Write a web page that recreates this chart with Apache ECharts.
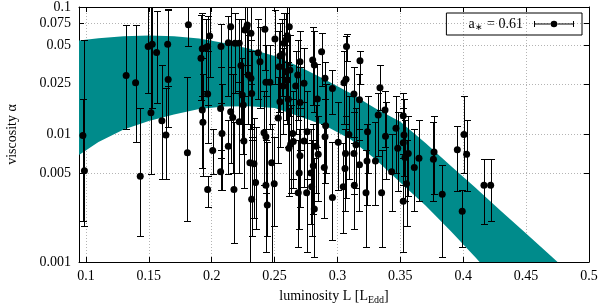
<!DOCTYPE html>
<html><head><meta charset="utf-8">
<script src="https://cdn.jsdelivr.net/npm/echarts@6/dist/echarts.min.js"></script>
<style>html,body{margin:0;padding:0;background:#fff}#c{width:600px;height:305px}</style>
</head><body><div id="c"></div>
<script>
const xTicks = [0.1, 0.15, 0.2, 0.25, 0.3, 0.35, 0.4, 0.45, 0.5];
const yTicks = [0.001, 0.005, 0.01, 0.025, 0.05, 0.075, 0.1];
const yTickLabels = ['0.001', '0.005', '0.01', '0.025', '0.05', '0.075', '0.1'];
const seriesName = 'a* = 0.61';

const lum = [0.0976,0.0988,0.132,0.1395,0.1432,0.1495,0.1527,0.1517,0.1562,0.1604,0.1636,0.165,0.1654,0.1815,0.1807,0.1915,0.1925,0.1952,0.1968,0.1984,
0.1968,0.1925,0.193,0.2074,0.2071,0.2082,0.2151,0.2132,0.2185,0.2219,0.2151,0.2167,0.1968,0.2008,0.2071,0.2132,0.2177,0.2256,0.2304,0.2318,
0.2349,0.2442,0.2477,0.2336,0.2416,0.2431,0.2431,0.2497,0.2614,0.2628,0.2644,0.2649,0.2688,0.2702,0.2696,0.2734,0.2755,0.2789,0.2795,0.2808,
0.2816,0.2847,0.2829,0.2895,0.2901,0.296,0.3006,0.3046,0.3064,0.306,0.3091,0.3131,0.3134,0.3147,0.3175,0.3227,0.3235,0.3239,0.3302,0.3351,
0.3382,0.3431,0.3479,0.3529,0.3537,0.3549,0.3523,0.3563,0.3611,0.3648,0.3763,0.3768,0.3833,0.3953,0.3992,0.4027,0.4006,0.4165,0.4218,0.3523,
0.2874,0.2901,0.296,0.3052,0.3068,0.3072,0.3131,0.3175,0.3179,0.3324,0.3338,0.3378,0.2906,0.3465,0.2233,0.2264,0.2278,0.2283,0.2312,0.2291,
0.2312,0.2318,0.2243,0.2251,0.237,0.2384,0.2423,0.2431,0.2463,0.2503,0.2537,0.2543,0.2561,0.2575,0.259,0.2601,0.2617,0.259,0.2601,0.2569,
0.2543,0.2609,0.2622,0.2668,0.2684,0.2702,0.2702,0.2734,0.2803,0.2816,0.284,0.2529,0.2219,0.2759,0.3523];
const alpha = [0.0098,0.0052,0.029,0.0255,0.0047,0.049,0.051,0.0148,0.044,0.0128,0.0099,0.051,0.027,0.0726,0.0072,0.0396,0.047,0.048,0.049,0.0593,
0.0208,0.0156,0.0125,0.049,0.016,0.0102,0.070,0.0525,0.0519,0.0519,0.0151,0.0136,0.0037,0.0075,0.0051,0.0081,0.0037,0.0089,0.006,0.0031,
0.0042,0.0028,0.006,0.0059,0.0103,0.0096,0.004,0.0041,0.0078,0.0084,0.0102,0.0088,0.0035,0.0068,0.005,0.0089,0.0035,0.005,0.0039,0.0057,
0.0026,0.007,0.0081,0.0055,0.0096,0.0032,0.0087,0.0039,0.0071,0.0054,0.01,0.0071,0.004,0.0083,0.0058,0.0035,0.0062,0.0105,0.0062,0.0035,
0.0097,0.0051,0.0078,0.0099,0.0066,0.0041,0.003,0.0071,0.0055,0.0065,0.0064,0.0073,0.0034,0.0076,0.0025,0.007,0.01,0.004,0.004,0.014,
0.0446,0.0276,0.023,0.0255,0.0271,0.0489,0.0208,0.0187,0.0379,0.0142,0.0233,0.0156,0.0117,0.0112,0.0347,0.066,0.0689,0.0722,0.0622,0.0293,
0.0276,0.021,0.0204,0.017,0.0438,0.0372,0.0668,0.0257,0.0257,0.0561,0.034,0.0413,0.0426,0.0519,0.0551,0.0596,0.070,0.0311,0.0268,0.024,
0.0181,0.0189,0.0321,0.024,0.0293,0.0372,0.0178,0.0252,0.0384,0.0351,0.019,0.0135,0.0126,0.0105,0.0086];
const alphaLo = [0.0021,0.0019,0.011,0.0087,0.0016,0.021,0.016,0.0049,0.0177,0.0045,0.0045,0.024,0.0115,0.049,0.0021,0.0187,0.02,0.022,0.017,0.028,
0.0085,0.0055,0.0047,0.0177,0.0065,0.0037,0.03,0.02,0.021,0.022,0.006,0.005,0.0027,0.0049,0.0037,0.0049,0.0014,0.0038,0.001,0.0016,
0.0018,0.0016,0.001,0.0022,0.004,0.0035,0.0012,0.0019,0.0033,0.0035,0.0045,0.0038,0.0013,0.0027,0.0018,0.0039,0.0012,0.002,0.0016,0.0024,
0.0011,0.003,0.0035,0.0022,0.0042,0.0015,0.0037,0.0017,0.0032,0.0025,0.0045,0.0034,0.0018,0.0038,0.0025,0.0013,0.0028,0.005,0.0028,0.0013,
0.0045,0.0025,0.0036,0.0047,0.003,0.0019,0.0012,0.0033,0.0025,0.003,0.003,0.0034,0.0011,0.0036,0.0013,0.0036,0.005,0.002,0.0021,0.007,
0.024,0.012,0.0146,0.012,0.012,0.0377,0.0095,0.009,0.025,0.0068,0.0156,0.008,0.005,0.005,0.012,0.03,0.035,0.03,0.025,0.012,
0.011,0.009,0.009,0.007,0.019,0.016,0.032,0.011,0.011,0.025,0.015,0.018,0.02,0.024,0.026,0.028,0.035,0.013,0.012,0.01,
0.008,0.008,0.014,0.01,0.013,0.016,0.0075,0.011,0.017,0.015,0.008,0.006,0.005,0.0045,0.004];
const alphaHi = [0.019,0.055,0.072,0.072,0.016,0.11,0.11,0.11,0.093,0.035,0.023,0.095,0.096,0.1,0.028,0.087,0.09,0.08,0.085,0.1,
0.045,0.04,0.03,0.074,0.034,0.025,0.1,0.085,0.09,0.08,0.034,0.03,0.0047,0.011,0.0075,0.013,0.0125,0.02,0.012,0.0095,
0.0115,0.0088,0.012,0.0135,0.022,0.02,0.009,0.0095,0.016,0.017,0.022,0.019,0.009,0.014,0.011,0.018,0.0085,0.011,0.009,0.012,
0.0065,0.014,0.017,0.012,0.019,0.0088,0.018,0.0085,0.014,0.011,0.02,0.015,0.0085,0.016,0.011,0.0075,0.012,0.02,0.0125,0.0075,
0.018,0.01,0.015,0.019,0.013,0.009,0.0065,0.014,0.011,0.013,0.0125,0.014,0.0058,0.0117,0.0037,0.013,0.02,0.0064,0.0064,0.021,
0.062,0.037,0.032,0.045,0.059,0.061,0.034,0.03,0.045,0.021,0.035,0.022,0.025,0.02,0.08,0.1,0.1,0.1,0.1,0.06,
0.055,0.045,0.04,0.035,0.08,0.07,0.1,0.05,0.05,0.095,0.065,0.075,0.08,0.09,0.09,0.1,0.1,0.06,0.05,0.048,
0.036,0.037,0.06,0.045,0.055,0.065,0.034,0.048,0.07,0.065,0.036,0.028,0.026,0.022,0.016];

const bandUpperL = [0.0945,0.11,0.13,0.15,0.17,0.19,0.21,0.23,0.25,0.27,0.29,0.31,0.33,0.35,0.37,0.39,0.41,0.413,0.43,0.45,0.47,0.475];
const bandUpperA = [0.0546,0.0569,0.0589,0.0597,0.059,0.0567,0.0522,0.047,0.0413,0.034,0.027,0.0212,0.0161,0.0126,0.00858,0.0057,0.0038,0.00357,0.00251,0.00167,0.00111,0.001];
const bandLowerL = [0.0945,0.11,0.13,0.15,0.17,0.19,0.21,0.23,0.25,0.27,0.29,0.31,0.33,0.35,0.37,0.39,0.41,0.413];
const bandLowerA = [0.0069,0.00873,0.01094,0.01276,0.01435,0.01585,0.0166,0.01667,0.01614,0.01384,0.01177,0.00923,0.00643,0.00421,0.00277,0.00175,0.00108,0.001];

const FONT = 'Liberation Serif';
const gridColor = '#b4b4b4';

const chart = echarts.init(document.getElementById('c'), null, {renderer: 'canvas'});

const xLabelFmt = v => String(+v.toFixed(3));
const yLabelFmt = v => {
  let best = 0, d = Infinity;
  yTicks.forEach((t, i) => { const e = Math.abs(Math.log10(t) - Math.log10(v)); if (e < d) { d = e; best = i; } });
  return yTickLabels[best];
};

const option = {
  animation: false,
  backgroundColor: '#fff',
  grid: {left: 79, right: 11, top: 7, bottom: 43, containLabel: false, outerBoundsMode: 'none'},
  legend: {
    show: true,
    data: [{name: seriesName, icon: 'path://M0,1h1v6h-1z M39,1h1v6h-1z M1,3.5h16v1h-16z M23,3.5h16v1h-16z M16.7,4a3.3,3.3 0 1,0 6.6,0a3.3,3.3 0 1,0 -6.6,0z'}],
    right: 18, top: 13,
    align: 'right',
    itemWidth: 40, itemHeight: 8,
    borderColor: '#000', borderWidth: 1, borderRadius: 0,
    padding: [4, 8, 3, 22],
    itemStyle: {color: '#000', opacity: 1},
    formatter: n => n.replace(/^a\*(.*)$/, '{a|a}{s|∗}{a|$1}'),
    textStyle: {
      fontFamily: FONT, fontSize: 14, color: '#000', padding: [0, 6, 0, 0],
      rich: {
        a: {fontFamily: FONT, fontSize: 14, color: '#000', lineHeight: 16, verticalAlign: 'middle'},
        s: {fontFamily: FONT, fontSize: 9, color: '#000', lineHeight: 10, verticalAlign: 'bottom', padding: [0, 1, 0, 0]}
      }
    }
  },
  xAxis: [{
    type: 'value', min: 0.0945, max: 0.5, position: 'bottom',
    axisLine: {show: true, onZero: false, lineStyle: {color: '#000', width: 1}},
    axisTick: {show: true, inside: true, length: 5, customValues: xTicks, lineStyle: {color: '#000'}},
    axisLabel: {show: true, customValues: xTicks, formatter: xLabelFmt, color: '#000', fontFamily: FONT, fontSize: 14, margin: 7},
    splitLine: {show: true, lineStyle: {color: gridColor, type: [1, 2], width: 1}},
    name: '{n|luminosity L [L}{s|Edd}{n|]}',
    nameLocation: 'middle', nameGap: 25,
    nameTextStyle: {
      fontFamily: FONT, fontSize: 14, color: '#000',
      rich: {
        n: {fontFamily: FONT, fontSize: 14, color: '#000', lineHeight: 18, verticalAlign: 'middle'},
        s: {fontFamily: FONT, fontSize: 10, color: '#000', lineHeight: 12, verticalAlign: 'bottom'}
      }
    }
  }, {
    type: 'value', min: 0.0945, max: 0.5, position: 'top',
    axisLine: {show: true, onZero: false, lineStyle: {color: '#000', width: 1}},
    axisTick: {show: true, inside: true, length: 5, customValues: xTicks, lineStyle: {color: '#000'}},
    axisLabel: {show: false},
    splitLine: {show: false}
  }],
  yAxis: [{
    type: 'log', logBase: 10, min: 0.001, max: 0.1, position: 'left',
    axisLine: {show: true, onZero: false, lineStyle: {color: '#000', width: 1}},
    axisTick: {show: true, inside: true, length: 5, customValues: yTicks, lineStyle: {color: '#000'}},
    axisLabel: {show: true, customValues: yTicks, formatter: yLabelFmt, color: '#000', fontFamily: FONT, fontSize: 14, margin: 8},
    splitLine: {show: true, lineStyle: {color: gridColor, type: [1, 2], width: 1}},
    minorTick: {show: false}, minorSplitLine: {show: false},
    name: 'viscosity α', nameLocation: 'middle', nameGap: 60, nameRotate: 90,
    nameTextStyle: {fontFamily: FONT, fontSize: 14, color: '#000'}
  }, {
    type: 'log', logBase: 10, min: 0.001, max: 0.1, position: 'right',
    axisLine: {show: true, onZero: false, lineStyle: {color: '#000', width: 1}},
    axisTick: {show: true, inside: true, length: 5, customValues: yTicks, lineStyle: {color: '#000'}},
    axisLabel: {show: false},
    splitLine: {show: false}
  }],
  series: [{
    type: 'custom', name: 'band', silent: true, z: 1,
    xAxisIndex: 0, yAxisIndex: 0,
    data: [[0.3, 0.01]],
    renderItem: (params, api) => {
      const pts = [];
      for (let i = 0; i < bandUpperL.length; i++) pts.push(api.coord([bandUpperL[i], bandUpperA[i]]));
      for (let i = bandLowerL.length - 1; i >= 0; i--) pts.push(api.coord([bandLowerL[i], bandLowerA[i]]));
      return {type: 'polygon', shape: {points: pts}, style: {fill: '#008b8b', stroke: null}};
    }
  }, {
    type: 'custom', name: 'errors', silent: true, z: 2,
    xAxisIndex: 0, yAxisIndex: 0,
    data: lum.map((l, i) => [l, alphaLo[i], alphaHi[i]]),
    encode: {x: 0, y: [1, 2]},
    renderItem: (params, api) => {
      const x = api.value(0), lo = api.value(1), hi = api.value(2);
      const a = api.coord([x, hi]), b = api.coord([x, lo]);
      const cs = params.coordSys;
      const top = cs.y, bot = cs.y + cs.height;
      const px = Math.round(a[0]) + 0.5;
      const yh = Math.round(a[1]) + 0.5, yl = Math.round(b[1]) + 0.5;
      const y1 = Math.max(yh, top), y2 = Math.min(yl, bot);
      const st = {stroke: '#000', lineWidth: 1, opacity: 1};
      const ch = [{type: 'line', shape: {x1: px, y1: y1, x2: px, y2: y2}, style: st}];
      if (a[1] >= top) ch.push({type: 'line', shape: {x1: px - 3.5, y1: yh, x2: px + 3.5, y2: yh}, style: st});
      if (b[1] <= bot) ch.push({type: 'line', shape: {x1: px - 3.5, y1: yl, x2: px + 3.5, y2: yl}, style: st});
      return {type: 'group', children: ch};
    }
  }, {
    type: 'scatter', name: seriesName, z: 3,
    xAxisIndex: 0, yAxisIndex: 0,
    symbol: 'circle', symbolSize: 7,
    itemStyle: {color: '#000', opacity: 1},
    emphasis: {disabled: true},
    data: lum.map((l, i) => [l, alpha[i]])
  }]
};
chart.setOption(option);
</script>
</body></html>
